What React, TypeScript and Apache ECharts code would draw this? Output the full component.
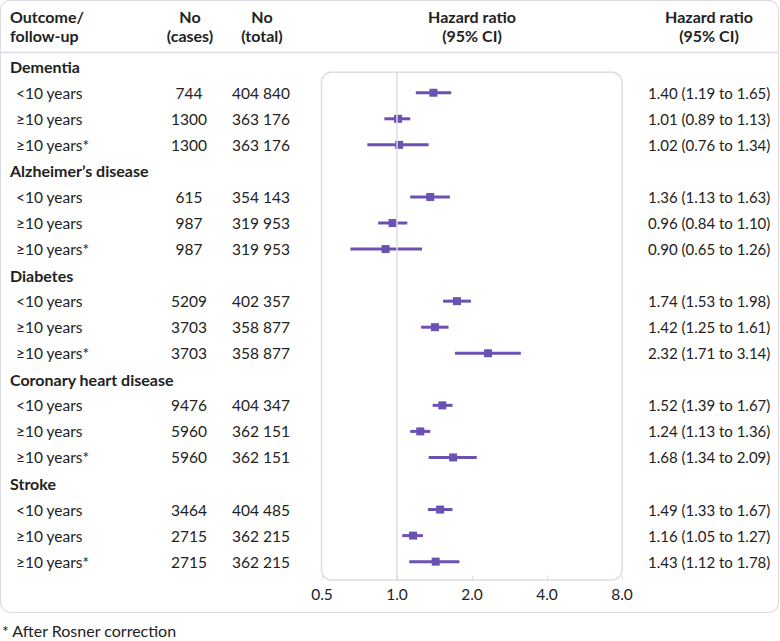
import React, { useEffect, useRef } from "react";
import * as echarts from "echarts";

const groups = ["Dementia", "Alzheimer’s disease", "Diabetes", "Coronary heart disease", "Stroke"];
const followUp = ["<10 years", "≥10 years", "≥10 years*"];
const cases = [744, 1300, 1300, 615, 987, 987, 5209, 3703, 3703, 9476, 5960, 5960, 3464, 2715, 2715];
const totals = [404840, 363176, 363176, 354143, 319953, 319953, 402357, 358877, 358877, 404347, 362151, 362151, 404485, 362215, 362215];
const hr = [1.40, 1.01, 1.02, 1.36, 0.96, 0.90, 1.74, 1.42, 2.32, 1.52, 1.24, 1.68, 1.49, 1.16, 1.43];
const lo = [1.19, 0.89, 0.76, 1.13, 0.84, 0.65, 1.53, 1.25, 1.71, 1.39, 1.13, 1.34, 1.33, 1.05, 1.12];
const hi = [1.65, 1.13, 1.34, 1.63, 1.10, 1.26, 1.98, 1.61, 3.14, 1.67, 1.36, 2.09, 1.67, 1.27, 1.78];
const xTicks = [0.5, 1, 2, 4, 8];

const FONT = "Lato, 'Noto Sans', sans-serif";
const TXT = "#222222";
const PURPLE = "#6a52b3";
const BORDER = "#dcdce4";

const fmtTotal = (n: number) => {
  const s = String(n);
  return s.slice(0, s.length - 3) + " " + s.slice(s.length - 3);
};

export default function App() {
  const ref = useRef<HTMLDivElement>(null);
  useEffect(() => {
    if (!ref.current) return;
    const chart = echarts.init(ref.current, null, { renderer: "svg" });

    const tableRows: any[] = [];
    const forestRows: any[] = [];
    groups.forEach((g, gi) => {
      const base = gi * 4;
      tableRows.push({ value: [1, base], kind: "header", label: g });
      followUp.forEach((f, fi) => {
        const k = gi * 3 + fi;
        const row = base + 1 + fi;
        tableRows.push({
          value: [1, row],
          kind: "item",
          label: f,
          cases: String(cases[k]),
          total: fmtTotal(totals[k]),
          ci: `${hr[k].toFixed(2)} (${lo[k].toFixed(2)} to ${hi[k].toFixed(2)})`,
        });
        forestRows.push([hr[k], row, lo[k], hi[k]]);
      });
    });

    const GRID_L = 322, GRID_R = 622, GRID_T = 72.3, GRID_B = 580;
    const ROW0 = 66.7, ROW_H = 26.05;
    const HFONT = `bold 16px ${FONT}`;
    const headStyle = (text: string, align: string) => ({
      text, font: HFONT, fill: TXT, lineHeight: 18.5, align,
    });

    chart.setOption({
      animation: false,
      textStyle: { fontFamily: FONT },
      grid: { left: GRID_L, right: 780 - GRID_R, top: GRID_T, bottom: 641 - GRID_B },
      xAxis: {
        type: "log",
        logBase: 2,
        min: xTicks[0],
        max: xTicks[xTicks.length - 1],
        axisLine: { show: false },
        axisTick: { show: true, inside: true, length: 4, lineStyle: { color: BORDER } },
        splitLine: { show: false },
        axisLabel: {
          margin: 6,
          fontSize: 15.5,
          color: TXT,
          fontFamily: FONT,
          formatter: (v: number) => Number(v).toFixed(1),
        },
      },
      yAxis: {
        type: "value",
        inverse: true,
        min: (GRID_T - ROW0) / ROW_H,
        max: (GRID_B - ROW0) / ROW_H,
        show: false,
      },
      graphic: [
        { type: "rect", shape: { x: 0.5, y: 0.5, width: 778, height: 612, r: 10 }, style: { fill: "none", stroke: BORDER, lineWidth: 1.2 }, silent: true, z: -1 },
        { type: "line", shape: { x1: 0.5, y1: 52.5, x2: 778.5, y2: 52.5 }, style: { stroke: BORDER, lineWidth: 1.5 }, silent: true },
        { type: "rect", shape: { x: GRID_L - 0.5, y: GRID_T, width: GRID_R - GRID_L + 0.5, height: GRID_B - GRID_T, r: 10 }, style: { fill: "none", stroke: BORDER, lineWidth: 1.5 }, silent: true, z: -1 },
        { type: "text", x: 10, y: 7.5, style: headStyle("Outcome/\nfollow-up", "left") },
        { type: "text", x: 190, y: 7.5, style: headStyle("No\n(cases)", "center") },
        { type: "text", x: 262, y: 7.5, style: headStyle("No\n(total)", "center") },
        { type: "text", x: 472, y: 7.5, style: headStyle("Hazard ratio\n(95% CI)", "center") },
        { type: "text", x: 709, y: 7.5, style: headStyle("Hazard ratio\n(95% CI)", "center") },
        { type: "text", x: 2, y: 622, style: { text: "* After Rosner correction", font: `16px ${FONT}`, fill: TXT } },
      ],
      series: [
        {
          type: "custom",
          coordinateSystem: "cartesian2d",
          clip: false,
          silent: true,
          encode: { x: 0, y: 1 },
          data: tableRows,
          renderItem: (params: any, api: any) => {
            const item = tableRows[params.dataIndex];
            const y = api.coord([1, api.value(1)])[1];
            if (item.kind === "header") {
              return {
                type: "text",
                style: { x: 10, y, text: item.label, font: HFONT, fill: TXT, verticalAlign: "middle" },
              };
            }
            return {
              type: "group",
              children: [
                { type: "text", style: { x: 16, y, text: item.label, font: `15.5px ${FONT}`, fill: TXT, verticalAlign: "middle" } },
                { type: "text", style: { x: 189, y, text: item.cases, font: `15.5px ${FONT}`, fill: TXT, verticalAlign: "middle", align: "center" } },
                { type: "text", style: { x: 261, y, text: item.total, font: `15.5px ${FONT}`, fill: TXT, verticalAlign: "middle", align: "center" } },
                { type: "text", style: { x: 648, y, text: item.ci, font: `15px ${FONT}`, fill: TXT, verticalAlign: "middle" } },
              ],
            };
          },
        },
        {
          type: "custom",
          coordinateSystem: "cartesian2d",
          silent: true,
          encode: { x: [0, 2, 3], y: 1 },
          data: forestRows,
          renderItem: (params: any, api: any) => {
            const row = api.value(1);
            const p = api.coord([api.value(0), row]);
            const a = api.coord([api.value(2), row]);
            const b = api.coord([api.value(3), row]);
            return {
              type: "group",
              children: [
                { type: "line", shape: { x1: a[0], y1: a[1], x2: b[0], y2: b[1] }, style: { stroke: PURPLE, lineWidth: 3 } },
                { type: "rect", shape: { x: p[0] - 4, y: p[1] - 4, width: 8, height: 8 }, style: { fill: PURPLE } },
              ],
            };
          },
          markLine: {
            silent: true,
            symbol: "none",
            label: { show: false },
            lineStyle: { color: BORDER, width: 1.5, type: "solid" },
            data: [{ xAxis: 1 }],
          },
        },
      ],
    });
    return () => chart.dispose();
  }, []);
  return (
    <div
      ref={ref}
      style={{ position: "absolute", left: 0, top: 0, width: 780, height: 641, background: "#fff" }}
    />
  );
}
